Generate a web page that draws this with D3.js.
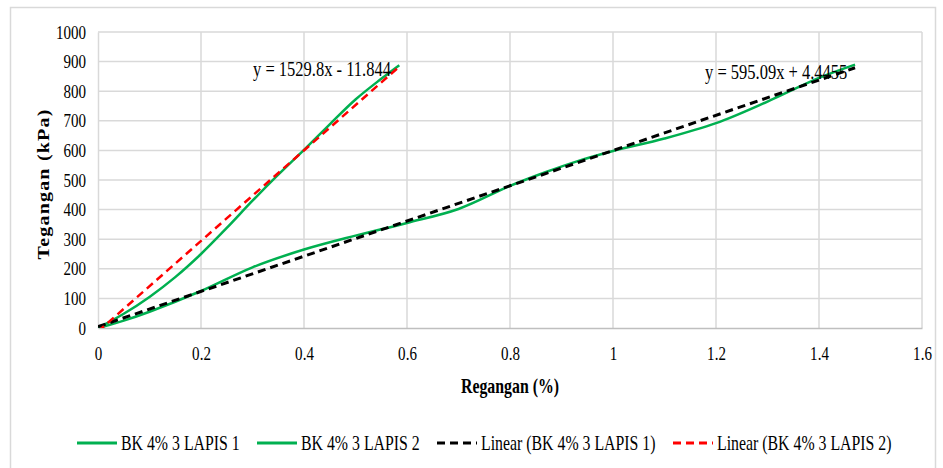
<!DOCTYPE html>
<html>
<head>
<meta charset="utf-8">
<script src="https://cdn.jsdelivr.net/npm/d3@7"></script>
<style>
  html, body { margin: 0; padding: 0; background: #fff; }
  svg { display: block; }
  svg text { font-family: "Liberation Serif", "Times New Roman", serif !important; fill: #000; }
</style>
</head>
<body>
<svg id="chart" width="943" height="468"></svg>
<script>
// --- data ---
const xTicks = [0, 0.2, 0.4, 0.6, 0.8, 1, 1.2, 1.4, 1.6];
const yTicks = [0, 100, 200, 300, 400, 500, 600, 700, 800, 900, 1000];

// BK 4% 3 LAPIS 1 (the long, flatter curve)
const lapis1X = [0, 0.05, 0.1, 0.2, 0.3, 0.4, 0.5, 0.6, 0.7, 0.8, 0.87, 0.93, 1.0, 1.1, 1.2, 1.3, 1.4, 1.47];
const lapis1Y = [0, 25, 55, 125, 205, 265, 312, 355, 402, 480, 527, 563, 598, 640, 692, 765, 845, 890];

// BK 4% 3 LAPIS 2 (the steep curve)
const lapis2X = [0, 0.05, 0.1, 0.15, 0.2, 0.25, 0.3, 0.35, 0.4, 0.45, 0.5, 0.55, 0.585];
const lapis2Y = [0, 48, 105, 172, 250, 338, 430, 518, 602, 688, 772, 842, 888];

// trendline coefficients
const fit1 = { m: 595.09, b: 4.4455, label: 'y = 595.09x + 4.4455' };
const fit2 = { m: 1529.8, b: -11.844, label: 'y = 1529.8x - 11.844' };

const legendNames = ['BK 4% 3 LAPIS 1', 'BK 4% 3 LAPIS 2', 'Linear (BK 4% 3 LAPIS 1)', 'Linear (BK 4% 3 LAPIS 2)'];

// --- drawing ---
const svg = d3.select('#chart');
const plot = { left: 98, right: 922, top: 32, bottom: 328 };
const GREEN = '#00b050', GRID = '#d9d9d9';

// the reference text is tall and narrow: squeeze glyphs horizontally
const squeeze = (sel, k) => sel.each(function () {
  const w = this.getComputedTextLength();
  d3.select(this).attr('textLength', w * k).attr('lengthAdjust', 'spacingAndGlyphs');
});

svg.append('rect').attr('x', 10.5).attr('y', 7.5).attr('width', 925).attr('height', 480)
  .attr('fill', '#fff').attr('stroke', GRID).attr('stroke-width', 1.5);

const x = d3.scaleLinear().domain([0, 1.6]).range([plot.left, plot.right]);
const y = d3.scaleLinear().domain([0, 1000]).range([plot.bottom, plot.top]);

// grid
const grid = svg.append('g');
grid.selectAll('.gx').data(xTicks.slice(1)).join('line')
  .attr('x1', d => x(d)).attr('x2', d => x(d)).attr('y1', plot.top).attr('y2', plot.bottom)
  .attr('stroke', GRID).attr('stroke-width', 1.5);
grid.selectAll('.gy').data(yTicks.slice(1)).join('line')
  .attr('x1', plot.left).attr('x2', plot.right).attr('y1', d => y(d)).attr('y2', d => y(d))
  .attr('stroke', GRID).attr('stroke-width', 1.5);

// axes
const xAxis = svg.append('g').attr('transform', `translate(0,${plot.bottom})`)
  .call(d3.axisBottom(x).tickValues(xTicks).tickSize(0).tickPadding(19).tickFormat(d3.format('~g')));
const yAxis = svg.append('g').attr('transform', `translate(${plot.left},0)`)
  .call(d3.axisLeft(y).tickValues(yTicks).tickSize(0).tickPadding(12).tickFormat(d3.format('d')));
[xAxis, yAxis].forEach(a => {
  a.attr('font-family', null).attr('font-size', 19);
  a.select('.domain').attr('stroke', '#bfbfbf').attr('stroke-width', 1.5);
  a.selectAll('text').attr('fill', '#000');
  squeeze(a.selectAll('text'), 0.79);
});
yAxis.select('.domain').attr('stroke', GRID);

// axis titles
svg.append('text').attr('x', x(0.8)).attr('y', 393).attr('text-anchor', 'middle')
  .attr('font-size', 22).attr('font-weight', 'bold').text('Regangan (%)')
  .call(squeeze, 0.72);
svg.append('text')
  .attr('transform', `translate(49,${(plot.top + plot.bottom) / 2 + 4}) rotate(-90) scale(1,0.8)`)
  .attr('text-anchor', 'middle').attr('font-size', 20).attr('font-weight', 'bold')
  .attr('letter-spacing', 1.2).text('Tegangan (kPa)');

// series
const line = d3.line().x(d => x(d[0])).y(d => y(d[1])).curve(d3.curveCatmullRom.alpha(0.5));
const s1 = d3.zip(lapis1X, lapis1Y);
const s2 = d3.zip(lapis2X, lapis2Y);

svg.append('clipPath').attr('id', 'clip').append('rect')
  .attr('x', plot.left).attr('y', plot.top - 5).attr('width', plot.right - plot.left).attr('height', plot.bottom - plot.top + 5);

const series = svg.append('g').attr('clip-path', 'url(#clip)');
series.append('path').datum(s1).attr('d', line).attr('fill', 'none').attr('stroke', GREEN).attr('stroke-width', 2.5);
series.append('path').datum(s2).attr('d', line).attr('fill', 'none').attr('stroke', GREEN).attr('stroke-width', 2.5);

// trendlines over the data range
const trend = (fit, xs) => [xs[0], xs[xs.length - 1]].map(v => [v, fit.m * v + fit.b]);
const straight = d3.line().x(d => x(d[0])).y(d => y(d[1]));
series.append('path').datum(trend(fit1, lapis1X)).attr('d', straight).attr('fill', 'none')
  .attr('stroke', '#000').attr('stroke-width', 3).attr('stroke-dasharray', '8,5');
series.append('path').datum(trend(fit2, lapis2X)).attr('d', straight).attr('fill', 'none')
  .attr('stroke', '#ff0000').attr('stroke-width', 2.5).attr('stroke-dasharray', '8,5');

// equation labels
svg.append('text').attr('x', 253).attr('y', 76).attr('font-size', 22).text(fit2.label).call(squeeze, 0.75);
svg.append('text').attr('x', 705).attr('y', 79).attr('font-size', 22).text(fit1.label).call(squeeze, 0.75);

// legend (text narrowed with a scale transform so its box stays inside the page)
const legendStyles = [
  { color: GREEN, dash: null, w: 3 },
  { color: GREEN, dash: null, w: 3 },
  { color: '#000', dash: '8,5', w: 3 },
  { color: '#ff0000', dash: '8,5', w: 3 }
];
const legendX = [77, 257, 437, 673];
legendNames.forEach((name, i) => {
  const g = svg.append('g').attr('transform', `translate(${legendX[i]},443)`);
  g.append('line').attr('x1', 0).attr('x2', 40).attr('stroke', legendStyles[i].color)
    .attr('stroke-width', legendStyles[i].w).attr('stroke-dasharray', legendStyles[i].dash);
  g.append('text').attr('transform', 'translate(44,6.5) scale(0.72,1)').attr('font-size', 22).text(name);
});
</script>
</body>
</html>
